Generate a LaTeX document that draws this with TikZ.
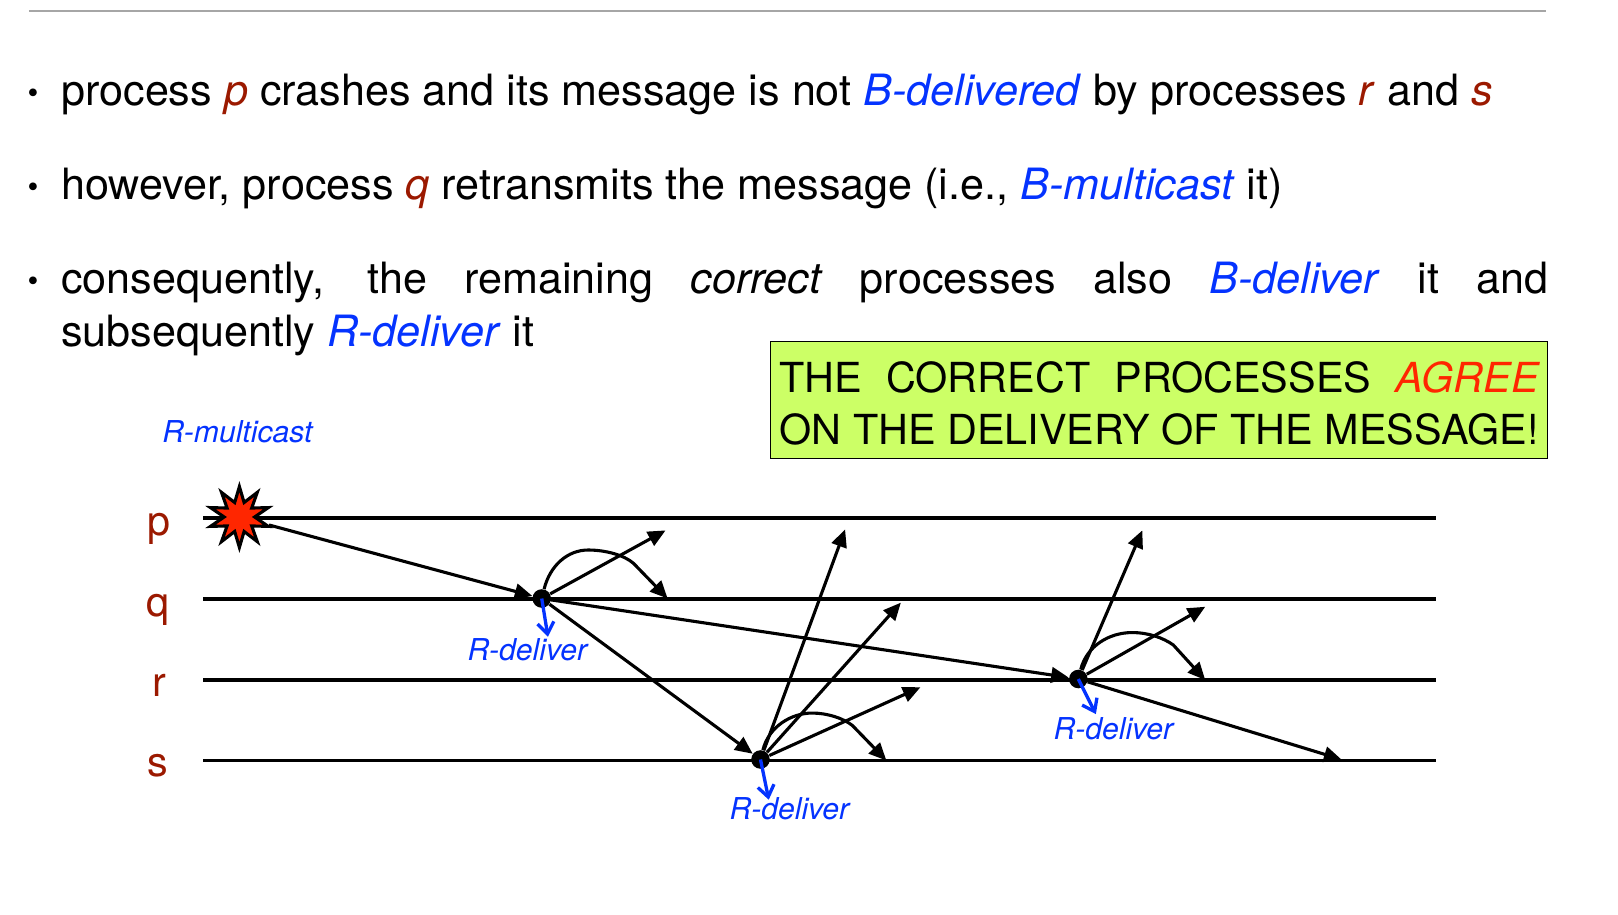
\documentclass[tikz,border=0pt]{standalone}
\usepackage{fontspec}
\usepackage{xcolor}
\setmainfont{TeX Gyre Heros}
\usetikzlibrary{arrows.meta, positioning, shapes.geometric}
\definecolor{procred}{RGB}{155,25,0}
\definecolor{termblue}{RGB}{4,51,255}
\definecolor{agreered}{RGB}{255,38,0}
\definecolor{boxgreen}{RGB}{204,255,102}
\newcommand{\pr}[1]{\textcolor{procred}{\textit{#1}}}
\newcommand{\tb}[1]{\textcolor{termblue}{\textit{#1}}}
\tikzset{
    line/.style={inner sep=0pt,anchor=base west,font=\fontsize{20.9}{25}\selectfont},
    boxline/.style={inner sep=0pt,anchor=base west,font=\fontsize{20.05}{24}\selectfont},
    mark dot/.style={inner sep=0pt,anchor=base,font=\fontsize{15}{18}\selectfont},
    proclabel/.style={inner sep=0pt,anchor=base,text=procred,font=\fontsize{20}{24}\selectfont},
    delivlabel/.style={inner sep=0pt,text=termblue,font=\fontsize{14.6}{17}\selectfont\itshape},
    procline/.style={line width=1.6pt},
    msg/.style={line width=1.5pt,-{Triangle[length=8.5pt,width=7.5pt]}},
    deliv/.style={line width=1.6pt,termblue,-{Straight Barb[length=5.5pt,width=8pt]}},
    dot/.style={circle,fill=black,inner sep=0pt,minimum size=9pt}
}
\begin{document}
\begin{tikzpicture}[x=0.5pt,y=-0.5pt]
\useasboundingbox (0,0) rectangle (1568,885.8);
% === TOP RULE AND TEXT ===
\coordinate (rulel) at (28,11);
\coordinate (ruler) at (1498,11);
\draw[line width=1pt,black!35] (rulel) -- (ruler);
\node[mark dot] (bone) at (32,100) {\textbullet};
\node[line] (tone) at (59,102.7) {process \pr{p} crashes and its message is not \tb{B-delivered} by processes \pr{r} and \pr{s}};
\node[mark dot] (btwo) at (32,191) {\textbullet};
\node[line] (ttwo) at (59,193.7) {however, process \pr{q} retransmits the message (i.e., \tb{B-multicast} it)};
\node[mark dot] (bthree) at (32,282) {\textbullet};
\node[line] (tthree) at (59,284.7) {\makebox[720.5pt][s]{consequently, the remaining \textit{correct} processes also \tb{B-deliver} it and}};
\node[line] (tfour) at (59,335.7) {subsequently \tb{R-deliver} it};
% === AGREE BOX ===
\node[draw=black,line width=0.6pt,fill=boxgreen,minimum width=376.5pt,minimum height=56.5pt,inner sep=0pt] (agree) at (1123.5,387.5) {};
\node[boxline] (aone) at (755,380) {\makebox[368.5pt][s]{THE CORRECT PROCESSES \textcolor{agreered}{\textit{AGREE}}}};
\node[boxline] (atwo) at (755,431) {ON THE DELIVERY OF THE MESSAGE!};
% === PROCESS LINES ===
\node[delivlabel] (mcast) at (230,418) {R-multicast};
\node[proclabel] (lp) at (154,519) {p};
\node[proclabel] (lq) at (153,597) {q};
\node[proclabel] (lr) at (154,675) {r};
\node[proclabel] (ls) at (153,752) {s};
\coordinate (pa) at (197,502);
\coordinate (pb) at (1392,502);
\coordinate (qa) at (197,580.5);
\coordinate (qb) at (1392,580.5);
\coordinate (ra) at (197,659);
\coordinate (rb) at (1392,659);
\coordinate (sa) at (197,737);
\coordinate (sb) at (1392,737);
\draw[procline] (pa) -- (pb);
\draw[procline] (qa) -- (qb);
\draw[procline] (ra) -- (rb);
\draw[procline] (sa) -- (sb);
\node[star,star points=10,star point ratio=2,draw=black,line width=1.5pt,fill=agreered,minimum size=29.5pt,inner sep=0pt] (burst) at (232,501) {};
% === PROCESS q ===
\begin{scope}[shift={(525,580)}]
    \node[dot] (dq) at (0,0) {};
    \coordinate (qup) at (120,-66);
    \coordinate (qarc) at (122,0);
    \coordinate (qdel) at (6,37);
    \draw[msg] (dq) -- (qup);
    \draw[msg] (dq) .. controls (8,-32) and (25,-47) .. (45,-47) .. controls (62,-47) and (80,-42) .. (89,-34) -- (qarc);
    \draw[deliv] (dq.center) -- (qdel);
    \node[delivlabel] (lblq) at (-14,50) {R-deliver};
\end{scope}
% === PROCESS s ===
\begin{scope}[shift={(737,736)}]
    \node[dot] (ds) at (0,0) {};
    \coordinate (sup) at (82,-223);
    \coordinate (smid) at (136,-152);
    \coordinate (slow) at (155,-70);
    \coordinate (sarc) at (122,1);
    \coordinate (sdel) at (8,39);
    \draw[msg] (ds) -- (sup);
    \draw[msg] (ds) -- (smid);
    \draw[msg] (ds) -- (slow);
    \draw[msg] (ds) .. controls (8,-32) and (30,-45) .. (50,-45) .. controls (65,-45) and (80,-40) .. (89,-33) -- (sarc);
    \draw[deliv] (ds.center) -- (sdel);
    \node[delivlabel] (lbls) at (28,48) {R-deliver};
\end{scope}
% === PROCESS r ===
\begin{scope}[shift={(1045,658)}]
    \node[dot] (dr) at (0,0) {};
    \coordinate (rup) at (62,-144);
    \coordinate (rmid) at (123,-70);
    \coordinate (rarc) at (123,1);
    \coordinate (rlast) at (255,78);
    \coordinate (rdel) at (17,34);
    \draw[msg] (dr) -- (rup);
    \draw[msg] (dr) -- (rmid);
    \draw[msg] (dr) .. controls (8,-32) and (30,-45) .. (52,-45) .. controls (68,-45) and (82,-40) .. (92,-33) -- (rarc);
    \draw[msg] (dr) -- (rlast);
    \draw[deliv] (dr.center) -- (rdel);
    \node[delivlabel] (lblr) at (34,48) {R-deliver};
\end{scope}
% === MESSAGES BETWEEN PROCESSES ===
\draw[msg] (burst) -- (dq);
\draw[msg] (dq) -- (ds);
\draw[msg] (dq) -- (dr);
\end{tikzpicture}
\end{document}
